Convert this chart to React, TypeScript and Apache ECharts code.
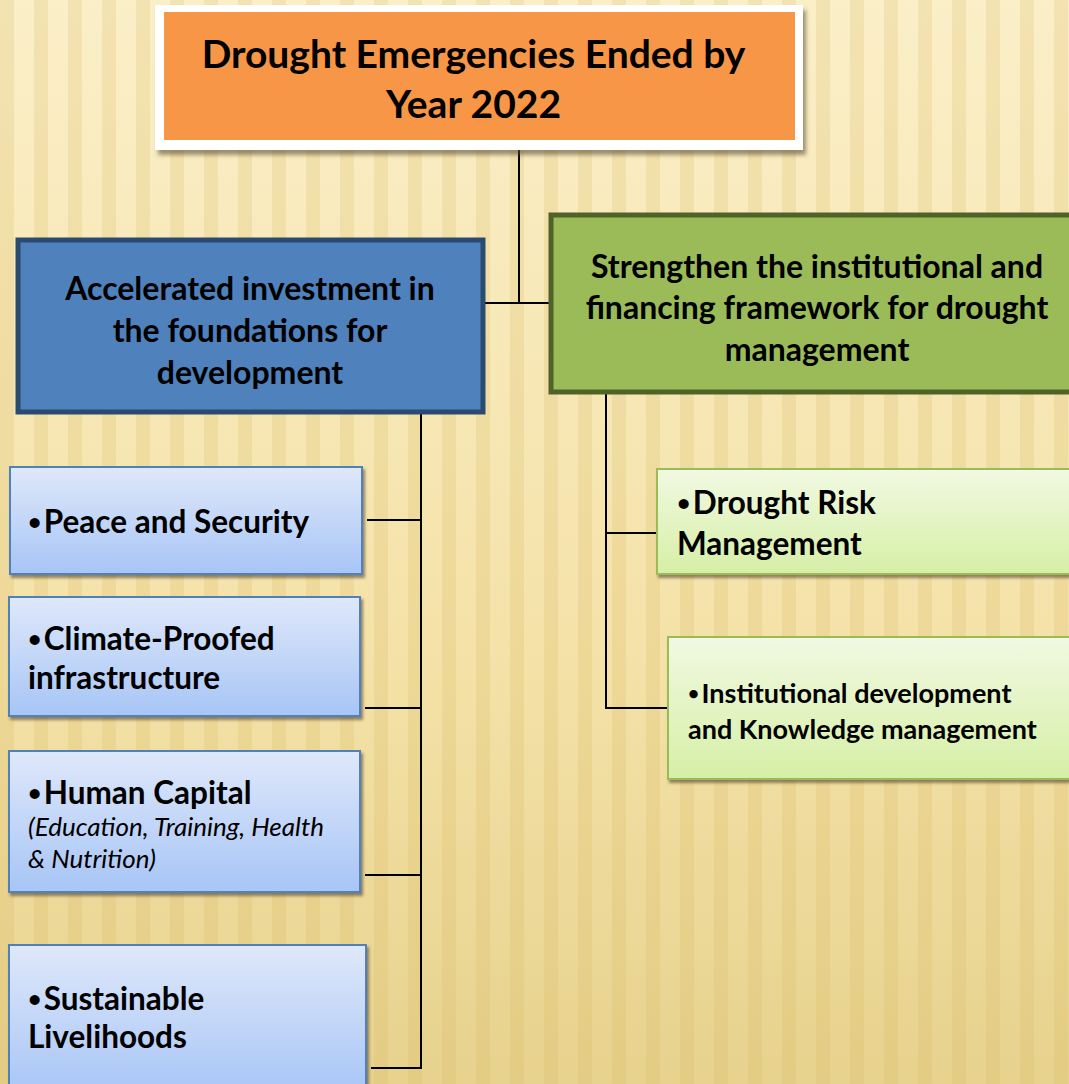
import React, { useEffect, useRef } from "react";
import * as echarts from "echarts";

// ---- Content (text) ----
const TITLE_LINES = ["Drought Emergencies Ended by", "Year 2022"];
const LEFT_HEAD_LINES = ["Accelerated investment in", "the foundations for", "development"];
const RIGHT_HEAD_LINES = ["Strengthen the institutional and", "financing framework for drought", "management"];
const LEFT_ITEM_LINES = [
  ["•Peace and Security"],
  ["•Climate-Proofed", "infrastructure"],
  ["•Human Capital"],
  ["•Sustainable", "Livelihoods"],
];
const LEFT_ITEM_NOTES = [[], [], ["(Education, Training, Health", "& Nutrition)"], []];
const RIGHT_ITEM_LINES = [
  ["•Drought Risk", "Management"],
  ["•Institutional development", "and Knowledge management"],
];

// ---- Layout (positions / sizes) ----
const W = 1069;
const H = 1084;
const TITLE_BOX = { x: 164, y: 12, w: 631, h: 128 };
const LEFT_HEAD_BOX = { x: 18, y: 240, w: 465, h: 172 };
const RIGHT_HEAD_BOX = { x: 551, y: 215, w: 530, h: 177 };
const LEFT_ITEM_BOXES = [
  { x: 10, y: 467, w: 352, h: 107, lineY: [521], noteY: [], conY: 520 },
  { x: 9, y: 597, w: 351, h: 119, lineY: [638, 677], noteY: [], conY: 708 },
  { x: 9, y: 751, w: 351, h: 141, lineY: [792], noteY: [826, 858], conY: 875 },
  { x: 9, y: 945, w: 357, h: 150, lineY: [998, 1036], noteY: [], conY: 1068 },
];
const RIGHT_ITEM_BOXES = [
  { x: 657, y: 469, w: 420, h: 105, lineY: [502, 543], size: 31.5, conY: 533 },
  { x: 668, y: 637, w: 410, h: 142, lineY: [692, 728], size: 27, conY: 708 },
];
const FONT = "Lato, 'Open Sans', sans-serif";

function textLines(lines: string[], ys: number[], x: number, align: string, size: number, italic = false) {
  return lines.map((t, i) => {
    const font = `${italic ? "italic 400" : "bold"} ${size}px ${FONT}`;
    if (t.startsWith("•")) {
      return {
        type: "text",
        z: 10,
        style: {
          text: `{b|•}{t|${t.slice(1)}}`,
          x,
          y: ys[i],
          textAlign: align,
          textVerticalAlign: "middle",
          rich: {
            b: { font: `bold ${Math.round(size * 0.72)}px ${FONT}`, fill: "#000", width: size * 0.5, verticalAlign: "middle" },
            t: { font, fill: "#000", verticalAlign: "middle" },
          },
        },
      };
    }
    return {
      type: "text",
      z: 10,
      style: {
        text: t,
        x,
        y: ys[i],
        fill: "#000",
        font,
        textAlign: align,
        textVerticalAlign: "middle",
      },
    };
  });
}

function line(x1: number, y1: number, x2: number, y2: number) {
  return {
    type: "line",
    z: 3,
    shape: { x1, y1, x2, y2 },
    style: { stroke: "#000", lineWidth: 2 },
  };
}

function buildGraphic() {
  const els: any[] = [];
  // background
  els.push({
    type: "rect",
    z: 0,
    shape: { x: 0, y: 0, width: W, height: H },
    style: {
      fill: new echarts.graphic.LinearGradient(0, 0, 0, 1, [
        { offset: 0, color: "#FBEFC8" },
        { offset: 0.6, color: "#F4E2A8" },
        { offset: 1, color: "#E7D28E" },
      ]),
    },
  });
  for (let sx = 0; sx < W; sx += 34) {
    els.push({
      type: "rect",
      z: 1,
      shape: { x: sx, y: 0, width: 14, height: H },
      style: { fill: "rgba(214,180,90,0.2)" },
    });
  }

  // title
  els.push({
    type: "rect",
    z: 4,
    shape: { x: TITLE_BOX.x - 9, y: TITLE_BOX.y - 7, width: TITLE_BOX.w + 17, height: TITLE_BOX.h + 17 },
    style: { fill: "#FFFFFF", shadowBlur: 4, shadowOffsetX: 3, shadowOffsetY: 5, shadowColor: "rgba(90,80,50,0.6)" },
  });
  els.push({
    type: "rect",
    z: 5,
    shape: { x: TITLE_BOX.x, y: TITLE_BOX.y, width: TITLE_BOX.w, height: TITLE_BOX.h },
    style: { fill: "#F79646" },
  });
  els.push(...textLines(TITLE_LINES, [53, 103], TITLE_BOX.x + TITLE_BOX.w / 2 - 6, "center", 39));

  // connectors
  els.push(line(519, TITLE_BOX.y + TITLE_BOX.h + 5, 519, 303));
  els.push(line(LEFT_HEAD_BOX.x + LEFT_HEAD_BOX.w, 303, RIGHT_HEAD_BOX.x, 303));
  els.push(line(421, LEFT_HEAD_BOX.y + LEFT_HEAD_BOX.h, 421, LEFT_ITEM_BOXES[3].conY + 1));
  LEFT_ITEM_BOXES.forEach((b) => els.push(line(b.x + b.w + 5, b.conY, 422, b.conY)));
  els.push(line(606, RIGHT_HEAD_BOX.y + RIGHT_HEAD_BOX.h, 606, RIGHT_ITEM_BOXES[1].conY + 1));
  RIGHT_ITEM_BOXES.forEach((b) => els.push(line(605, b.conY, b.x, b.conY)));

  // heads
  els.push({
    type: "rect",
    z: 5,
    shape: { x: LEFT_HEAD_BOX.x, y: LEFT_HEAD_BOX.y, width: LEFT_HEAD_BOX.w, height: LEFT_HEAD_BOX.h },
    style: { fill: "#4F81BD", stroke: "#2B4A70", lineWidth: 5 },
  });
  els.push(...textLines(LEFT_HEAD_LINES, [287, 329, 371], 250, "center", 32));
  els.push({
    type: "rect",
    z: 5,
    shape: { x: RIGHT_HEAD_BOX.x, y: RIGHT_HEAD_BOX.y, width: RIGHT_HEAD_BOX.w, height: RIGHT_HEAD_BOX.h },
    style: { fill: "#9BBB59", stroke: "#4F6228", lineWidth: 5 },
  });
  els.push(...textLines(RIGHT_HEAD_LINES, [265, 306, 348], 817, "center", 32));

  // left items
  LEFT_ITEM_BOXES.forEach((b, i) => {
    els.push({
      type: "rect",
      z: 5,
      shape: { x: b.x, y: b.y, width: b.w, height: b.h },
      style: {
        fill: new echarts.graphic.LinearGradient(0, 0, 0, 1, [
          { offset: 0, color: "#DFE8FA" },
          { offset: 1, color: "#A7C5F6" },
        ]),
        stroke: "#4F81BD",
        lineWidth: 2,
        shadowBlur: 3,
        shadowOffsetX: 2,
        shadowOffsetY: 3,
        shadowColor: "rgba(60,50,30,0.55)",
      },
    });
    els.push(...textLines(LEFT_ITEM_LINES[i], b.lineY, 28, "left", 31.5));
    els.push(...textLines(LEFT_ITEM_NOTES[i], b.noteY, 28, "left", 26, true));
  });

  // right items
  RIGHT_ITEM_BOXES.forEach((b, i) => {
    els.push({
      type: "rect",
      z: 5,
      shape: { x: b.x, y: b.y, width: b.w, height: b.h },
      style: {
        fill: new echarts.graphic.LinearGradient(0, 0, 0, 1, [
          { offset: 0, color: "#F1F9E2" },
          { offset: 1, color: "#D6EFA6" },
        ]),
        stroke: "#9BBB59",
        lineWidth: 2,
        shadowBlur: 3,
        shadowOffsetX: 2,
        shadowOffsetY: 3,
        shadowColor: "rgba(60,50,30,0.55)",
      },
    });
    els.push(...textLines(RIGHT_ITEM_LINES[i], b.lineY, b.x + 20, "left", b.size));
  });
  return els;
}

export default function App() {
  const ref = useRef<HTMLDivElement>(null);
  useEffect(() => {
    document.body.style.margin = "0";
    const chart = echarts.init(ref.current!, null, { renderer: "svg" });
    chart.setOption({
      animation: false,
      graphic: { elements: buildGraphic() },
    });
    return () => chart.dispose();
  }, []);
  return <div ref={ref} style={{ position: "absolute", left: 0, top: 0, width: W, height: H, overflow: "hidden" }} />;
}
